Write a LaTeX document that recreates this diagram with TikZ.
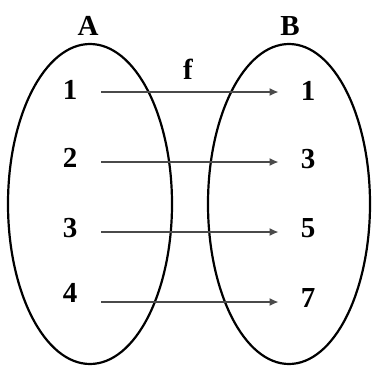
\documentclass[tikz,border=0pt]{standalone}
\usepackage{fontspec}
\setmainfont{Liberation Serif}
\usepackage{xcolor}
\definecolor{cLine}{HTML}{000000}
\definecolor{cArrow}{HTML}{4A4A4A}
\usepackage{tikz}
\usetikzlibrary{positioning,arrows.meta,shapes.geometric}
\tikzset{
  set-oval/.style={draw=cLine,line width=2.2pt,ellipse,inner sep=0pt,
    minimum width=164pt,minimum height=320pt},
  elem/.style={inner sep=0pt,font=\fontsize{29}{32}\selectfont\bfseries},
  set-name/.style={elem},
  arrow/.style={-{Latex[length=9pt,width=8pt]},line width=1.4pt,draw=cArrow,
    shorten <=24pt,shorten >=22pt},
}

\begin{document}
\begin{tikzpicture}[x=1pt,y=-1pt]
  \useasboundingbox (0,0) rectangle (372,367);
  \node[set-oval] (setA) at (90,204) {};
  \node[set-oval,minimum width=162pt] (setB) at (289,204) {};
  \node[set-name] (nameA) at (88,26) {A};
  \node[set-name] (nameB) at (290,26) {B};
  \node[set-name] (fname) at (188,69) {f};
  % elements of A
  \node[elem] (a1) at (70,90) {1};
  \node[elem] (a2) at (70,158) {2};
  \node[elem] (a3) at (70,228) {3};
  \node[elem] (a4) at (70,293) {4};
  % elements of B
  \node[elem] (b1) at (308,91) {1};
  \node[elem] (b3) at (308,159) {3};
  \node[elem] (b5) at (308,228) {5};
  \node[elem] (b7) at (308,298) {7};
  \draw[arrow] ([yshift=-2pt]a1.east) -- ([yshift=-2pt]a1.east -| b1.west);
  \draw[arrow] ([yshift=-4pt]a2.east) -- ([yshift=-4pt]a2.east -| b3.west);
  \draw[arrow] ([yshift=-4pt]a3.east) -- ([yshift=-4pt]a3.east -| b5.west);
  \draw[arrow] ([yshift=-9pt]a4.east) -- ([yshift=-9pt]a4.east -| b7.west);
\end{tikzpicture}
\end{document}
